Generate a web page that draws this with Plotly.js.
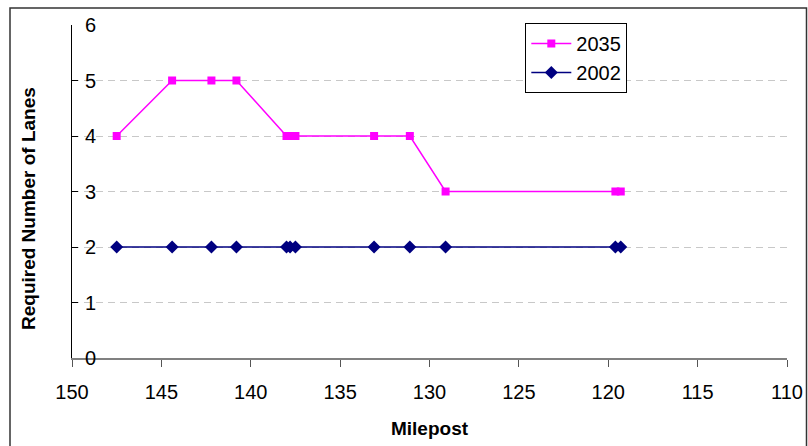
<!DOCTYPE html>
<html>
<head>
<meta charset="utf-8">
<script src="https://cdn.plot.ly/plotly-3.0.1.min.js"></script>
<style>
  html, body { margin: 0; padding: 0; background: #fff; }
  #chart { width: 808px; height: 446px; }
</style>
</head>
<body>
<div id="chart"></div>
<script>
const mileposts = [147.5, 144.4, 142.2, 140.8, 138.0, 137.8, 137.5, 133.1, 131.1, 129.1, 119.6, 119.3];
const lanes2035 = [4, 5, 5, 5, 4, 4, 4, 4, 4, 3, 3, 3];
const lanes2002 = [2, 2, 2, 2, 2, 2, 2, 2, 2, 2, 2, 2];
const xTicks = [150, 145, 140, 135, 130, 125, 120, 115, 110];
const yTicks = [0, 1, 2, 3, 4, 5, 6];

const FONT = "Arial, 'Liberation Sans', sans-serif";

const data = [
  {
    x: mileposts,
    y: lanes2035,
    type: "scatter",
    mode: "lines+markers",
    name: "2035",
    line: { color: "#ff00ff", width: 1.5 },
    marker: { symbol: "square", size: 8, color: "#ff00ff" }
  },
  {
    x: mileposts,
    y: lanes2002,
    type: "scatter",
    mode: "lines+markers",
    name: "2002",
    line: { color: "#000080", width: 1.5 },
    marker: { symbol: "diamond", size: 10, color: "#000080" }
  }
];

const layout = {
  width: 808,
  height: 446,
  margin: { l: 72, r: 21, t: 25, b: 88 },
  paper_bgcolor: "#ffffff",
  plot_bgcolor: "#ffffff",
  font: { family: FONT, size: 20, color: "#000" },
  showlegend: true,
  legend: {
    x: 0.634,
    y: 1.006,
    xanchor: "left",
    yanchor: "top",
    bgcolor: "#ffffff",
    bordercolor: "#000",
    borderwidth: 1,
    itemwidth: 40,
    font: { family: FONT, size: 20, color: "#000" },
    tracegroupgap: 0
  },
  xaxis: {
    range: [150, 110],
    tickmode: "array",
    tickvals: xTicks,
    ticktext: xTicks.map((v) => String(v)),
    showgrid: false,
    zeroline: false,
    showline: true,
    linecolor: "#808080",
    linewidth: 2,
    ticks: "outside",
    ticklen: 7,
    tickcolor: "#555",
    tickwidth: 1,
    ticklabelstandoff: 8,
    ticklabeloverflow: "allow",
    tickfont: { family: FONT, size: 20, color: "#000" },
    title: {
      text: "<b>Milepost</b>",
      font: { family: FONT, size: 19, color: "#000" },
      standoff: 20
    }
  },
  yaxis: {
    range: [0, 6],
    tickmode: "array",
    tickvals: yTicks,
    ticktext: yTicks.map((v) => String(v)),
    showgrid: true,
    gridcolor: "#c8c8c8",
    griddash: "7px,5px",
    gridwidth: 1,
    zeroline: false,
    showline: true,
    linecolor: "#000",
    linewidth: 1,
    ticks: "inside",
    ticklen: 6,
    tickcolor: "#000",
    ticklabelposition: "inside",
    ticklabeloverflow: "allow",
    ticklabelstandoff: 8,
    tickfont: { family: FONT, size: 20, color: "#000" }
  },
  annotations: [
    {
      text: "<b>Required Number of Lanes</b>",
      xref: "paper",
      yref: "paper",
      x: (28 - 72) / 715,
      y: (358 - 209) / 333,
      xanchor: "center",
      yanchor: "middle",
      textangle: -90,
      showarrow: false,
      font: { family: FONT, size: 19, color: "#000" }
    }
  ],
  shapes: [
    {
      type: "rect",
      xref: "paper",
      yref: "paper",
      x0: (10 - 72) / 715,
      x1: (806.5 - 72) / 715,
      y0: (358 - 460) / 333,
      y1: (358 - 8) / 333,
      line: { color: "#333", width: 1.5 },
      fillcolor: "rgba(0,0,0,0)",
      layer: "below"
    }
  ]
};

Plotly.newPlot("chart", data, layout, { displayModeBar: false, staticPlot: true });
</script>
</body>
</html>
